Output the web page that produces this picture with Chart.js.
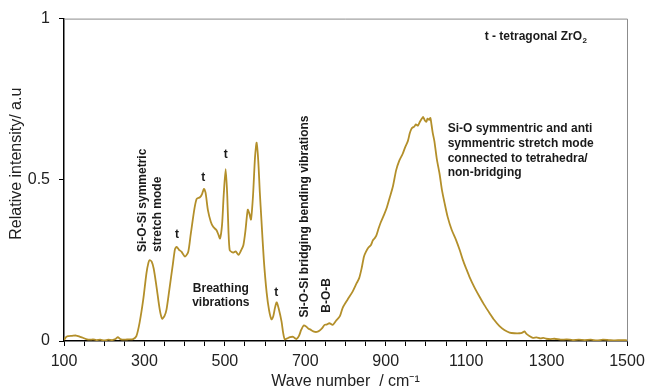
<!DOCTYPE html>
<html>
<head>
<meta charset="utf-8">
<script src="https://cdn.jsdelivr.net/npm/chart.js@4.4.1/dist/chart.umd.min.js"></script>
<style>
  html, body { margin: 0; padding: 0; background: #fff; }
  #wrap { width: 646px; height: 391px; position: relative; }
</style>
</head>
<body>
<div id="wrap"><canvas id="raman"></canvas></div>
<script>
// wave numbers (cm-1) and relative intensity
const waveNumbers = [
  100, 105, 110, 120, 130, 140, 147, 155, 165, 172, 180, 190, 200, 210, 220, 228, 234, 240, 250, 260,
  272, 280, 288, 297, 305, 310, 313, 318, 323, 330, 338, 344, 350, 355, 363, 371, 376, 380, 386, 392,
  401, 409, 415, 420, 425, 430, 438, 443, 448, 452, 458, 465, 471, 479, 484, 488, 493, 497, 502, 506,
  509, 512, 517, 521, 527, 534, 540, 546, 551, 557, 561, 565, 570, 575, 579, 583, 587, 591, 597, 604,
  610, 616, 620, 625, 629, 634, 641, 645, 649, 655, 662, 670, 675, 678, 684, 690, 696, 702, 708, 712,
  720, 728, 735, 742, 748, 753, 760, 768, 776, 786, 793, 805, 818, 828, 834, 840, 846, 851, 857, 863,
  868, 872, 876, 882, 888, 896, 903, 910, 918, 926, 934, 942, 948, 955, 960, 964, 967, 971, 975, 980,
  985, 990, 993, 997, 1001, 1004, 1008, 1011, 1014, 1017, 1021, 1027, 1034, 1040, 1046, 1054, 1064, 1075, 1084, 1092,
  1100, 1108, 1120, 1133, 1145, 1158, 1170, 1183, 1195, 1208, 1220, 1233, 1240, 1245, 1250, 1258, 1266, 1275, 1285, 1292,
  1299, 1310, 1320, 1335, 1350, 1365, 1380, 1395, 1410, 1425, 1440, 1455, 1470, 1485, 1500
];
const intensity = [
  0.003, 0.012, 0.015, 0.016, 0.017, 0.013, 0.010, 0.006, 0.004, 0.005, 0.003, 0.004, 0.002, 0.004, 0.003, 0.006, 0.012, 0.006, 0.004, 0.005,
  0.006, 0.015, 0.057, 0.128, 0.210, 0.243, 0.251, 0.246, 0.225, 0.169, 0.098, 0.069, 0.078, 0.098, 0.169, 0.241, 0.285, 0.292, 0.283, 0.277,
  0.262, 0.277, 0.330, 0.374, 0.415, 0.441, 0.446, 0.455, 0.472, 0.460, 0.405, 0.370, 0.354, 0.344, 0.330, 0.318, 0.360, 0.450, 0.533, 0.450,
  0.340, 0.282, 0.276, 0.274, 0.278, 0.267, 0.280, 0.297, 0.340, 0.407, 0.395, 0.377, 0.450, 0.570, 0.615, 0.560, 0.460, 0.374, 0.250, 0.149,
  0.095, 0.067, 0.075, 0.105, 0.120, 0.100, 0.060, 0.025, 0.005, 0.008, 0.012, 0.013, 0.008, 0.006, 0.015, 0.035, 0.048, 0.045, 0.038, 0.036,
  0.030, 0.028, 0.032, 0.040, 0.050, 0.051, 0.055, 0.050, 0.062, 0.077, 0.103, 0.128, 0.154, 0.180, 0.195, 0.225, 0.262, 0.277, 0.290, 0.297,
  0.312, 0.318, 0.325, 0.348, 0.369, 0.392, 0.415, 0.445, 0.480, 0.530, 0.560, 0.580, 0.600, 0.620, 0.645, 0.658, 0.662, 0.665, 0.672, 0.668,
  0.680, 0.690, 0.695, 0.685, 0.680, 0.690, 0.686, 0.692, 0.670, 0.645, 0.620, 0.565, 0.518, 0.467, 0.430, 0.385, 0.345, 0.313, 0.282, 0.251,
  0.225, 0.200, 0.168, 0.138, 0.112, 0.087, 0.065, 0.046, 0.034, 0.026, 0.024, 0.024, 0.026, 0.030, 0.022, 0.015, 0.010, 0.011, 0.008, 0.010,
  0.007, 0.006, 0.007, 0.004, 0.005, 0.003, 0.004, 0.003, 0.004, 0.002, 0.004, 0.003, 0.002, 0.003, 0.002
];
const xTickLabels = [100, 300, 500, 700, 900, 1100, 1300, 1500];
const yTickLabels = [0, 0.5, 1];

// band labels, placed in data units (wave number, intensity)
const bandNotes = [
  { text: 't', x: 381, y: 0.329 },
  { text: 't', x: 446, y: 0.508 },
  { text: 't', x: 502, y: 0.578 },
  { text: 't', x: 628, y: 0.149 },
  { text: 'Breathing', x: 490, y: 0.162 },
  { text: 'vibrations', x: 490, y: 0.119 }
];
const rotatedNotes = [
  { text: 'Si-O-Si symmetric', x: 295, y: 0.276 },
  { text: 'stretch mode', x: 334, y: 0.276 },
  { text: 'Si-O-Si bridging bending vibrations', x: 699, y: 0.073 },
  { text: 'B-O-B', x: 754, y: 0.088 }
];
const blockNotes = [
  { text: 'Si-O symmentric and anti', x: 1054, y: 0.658 },
  { text: 'symmentric stretch mode', x: 1054, y: 0.613 },
  { text: 'connected to tetrahedra/', x: 1054, y: 0.567 },
  { text: 'non-bridging', x: 1054, y: 0.521 }
];

const family = '"Liberation Sans", Arial, sans-serif';
const noteFont = 'bold 12px ' + family;

const notesPlugin = {
  id: 'notes',
  afterDraw(chart) {
    const ctx = chart.ctx;
    const xs = chart.scales.x, ys = chart.scales.y;
    const area = chart.chartArea;
    ctx.save();
    // grey frame on top and right
    ctx.strokeStyle = '#8c8c8c';
    ctx.lineWidth = 1;
    ctx.beginPath();
    ctx.moveTo(area.left, area.top + 0.5);
    ctx.lineTo(area.right + 0.5, area.top + 0.5);
    ctx.lineTo(area.right + 0.5, area.bottom);
    ctx.stroke();

    // y axis title (sits a bit above the middle of the axis)
    ctx.save();
    ctx.fillStyle = '#222';
    ctx.font = '16px ' + family;
    ctx.textAlign = 'center';
    ctx.textBaseline = 'middle';
    ctx.translate(17, ys.getPixelForValue(0.55));
    ctx.rotate(-Math.PI / 2);
    ctx.fillText('Relative intensity/ a.u', 0, 0);
    ctx.restore();

    ctx.fillStyle = '#1a1a1a';
    ctx.font = noteFont;
    ctx.textBaseline = 'middle';

    ctx.textAlign = 'center';
    bandNotes.forEach(n => {
      ctx.fillText(n.text, xs.getPixelForValue(n.x), ys.getPixelForValue(n.y));
    });

    ctx.textAlign = 'left';
    blockNotes.forEach(n => {
      ctx.fillText(n.text, xs.getPixelForValue(n.x), ys.getPixelForValue(n.y));
    });

    rotatedNotes.forEach(n => {
      ctx.save();
      ctx.translate(xs.getPixelForValue(n.x), ys.getPixelForValue(n.y));
      ctx.rotate(-Math.PI / 2);
      ctx.textAlign = 'left';
      ctx.fillText(n.text, 0, 0);
      ctx.restore();
    });

    // t - tetragonal ZrO2 with subscript
    const tx = xs.getPixelForValue(1146), ty = ys.getPixelForValue(0.945);
    const main = 't - tetragonal ZrO';
    ctx.textAlign = 'left';
    ctx.fillText(main, tx, ty);
    const w = ctx.measureText(main).width;
    ctx.font = 'bold 8px ' + family;
    ctx.fillText('2', tx + w + 0.5, ty + 4);
    ctx.restore();
  }
};

const points = waveNumbers.map((w, i) => ({ x: w, y: intensity[i] }));

new Chart(document.getElementById('raman'), {
  type: 'line',
  data: {
    datasets: [{
      data: points,
      borderColor: '#b38f2a',
      borderWidth: 1.8,
      pointRadius: 0,
      tension: 0.25,
      fill: false
    }]
  },
  options: {
    responsive: true,
    maintainAspectRatio: false,
    animation: false,
    layout: { padding: { top: 17, right: 19, left: 0, bottom: 0 } },
    plugins: { legend: { display: false }, tooltip: { enabled: false } },
    scales: {
      x: {
        type: 'linear',
        min: 100,
        max: 1500,
        afterFit(scale) {
          scale.height = 50;
          scale.paddingLeft = 0;
          scale.paddingRight = 0;
        },
        border: { color: '#000', width: 1.5 },
        grid: { drawOnChartArea: false, drawTicks: true, tickLength: 5, color: '#000' },
        ticks: {
          stepSize: 50,
          autoSkip: false,
          maxRotation: 0,
          padding: 6,
          color: '#222',
          font: { family: family, size: 16 },
          callback: v => xTickLabels.includes(v) ? String(v) : ''
        },
        title: {
          display: true,
          text: 'Wave number  / cm\u207B\u00B9',
          color: '#222',
          font: { family: family, size: 16 },
          padding: { top: 0, bottom: 0 }
        }
      },
      y: {
        min: 0,
        max: 1,
        afterFit(scale) { scale.width = 64; },
        border: { color: '#000', width: 1.5 },
        grid: { drawOnChartArea: false, drawTicks: true, tickLength: 5, color: '#000' },
        ticks: {
          stepSize: 0.5,
          padding: 9,
          color: '#222',
          font: { family: family, size: 16 },
          callback: v => yTickLabels.includes(v) ? String(v) : ''
        }
      }
    }
  },
  plugins: [notesPlugin]
});
</script>
</body>
</html>
